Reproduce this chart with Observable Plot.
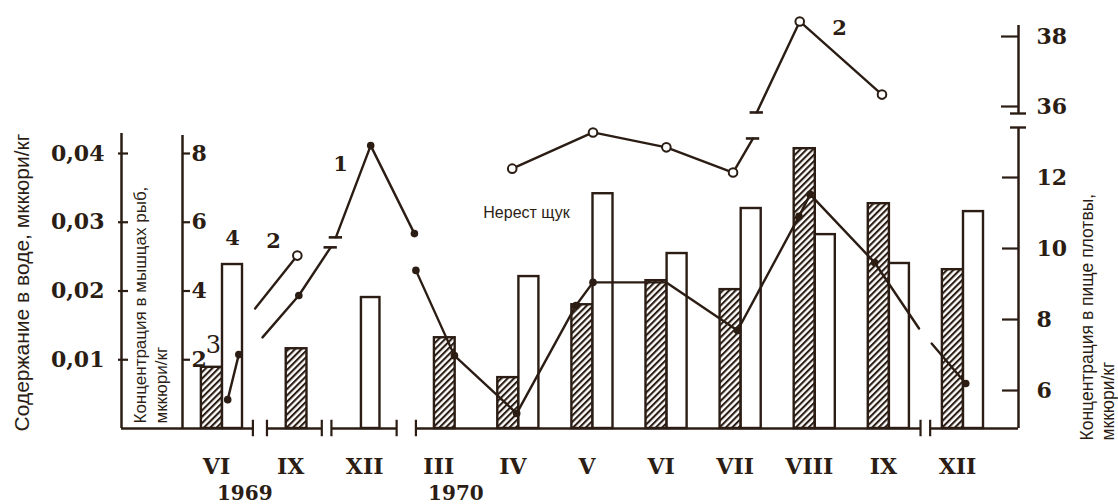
<!DOCTYPE html>
<html><head><meta charset="utf-8">
<script src="https://cdn.jsdelivr.net/npm/d3@7"></script>
<script src="https://cdn.jsdelivr.net/npm/@observablehq/plot@0.6"></script>
<style>html,body{margin:0;padding:0;background:#fff;} svg{display:block}</style>
</head><body><div id="chart"></div>
<script>
// ---- data ----
const months = ["VI","IX","XII","III","IV","V","VI","VII","VIII","IX","XII"];
const years = ["1969","1970"];
// series 3 (hatched bars): содержание в воде, мккюри/кг
const water = [0.0089, 0.0116, null, 0.0132, 0.0074, 0.0180, 0.0215, 0.0202, 0.0407, 0.0327, 0.0231];
// series 4 (open bars), inner left scale
const series4 = [4.77, null, 3.81, null, 4.42, 6.83, 5.09, 6.40, 5.64, 4.80, 6.31];
// line 1 (filled dots), inner left scale; position = fractional month slot
const line1Seg  = [0,0, 1,1,1, 2,2,2, 3,3,3,3,3,3,3,3,3,3,3, 4,4];
const line1Pos  = [0.07,0.22, 0.54,1.03,1.46, 1.53,2.00,2.59, 2.61,3.13,3.97,4.77,5.00,5.99,6.95,7.78,7.93,8.80,9.40, 9.57,10.03];
const line1Val  = [0.84,2.15, 2.65,3.87,5.27, 5.56,8.23,5.67, 4.60,2.12,0.44,3.58,4.25,4.25,2.85,6.17,6.81,4.83,2.91, 2.47,1.31];
const line1Mark = ["d","d", "-","d","c", "c","d","d", "d","d","d","d","d","-","d","d","d","d","-", "-","d"];
// line 2 (open circles), right scale
const line2Seg  = [0,0, 1,1,1,1,1, 2,2,2];
const line2Pos  = [0.44,1.01, 3.91,5.00,5.99,6.89,7.16, 7.21,7.79,8.90];
const line2Val  = [8.31,9.80, 12.25,13.27,12.85,12.14,13.10, 35.83,38.43,36.34];
const line2Mark = ["-","o", "o","o","o","o","c", "c","o","o"];
// axis ticks
const waterTicks = [0.01, 0.02, 0.03, 0.04];
const fishTicks = [2, 4, 6, 8];
const rightLowTicks = [6, 8, 10, 12];
const rightHighTicks = [36, 38];

// ---- layout helpers ----
const ink = "#2b1d14";
const serif = "DejaVu Serif";
const sans = "Liberation Sans, Arial, sans-serif";
const X0 = 222, XSTEP = 74.1;
const px = p => (p - X0) / XSTEP;      // page px -> x units (decorations only)
const py = p => (428 - p) / 34.375;    // page px -> y units (decorations only)
const water2y = w => w * 200;
const right2y = p => p >= 30 ? 9.367 + (p - 36) * 1.018 : 1.105 + (p - 6) * 1.0327;

const bars3 = months.map((m, i) => ({i, v: water[i], pair: series4[i] != null})).filter(d => d.v != null);
const bars4 = months.map((m, i) => ({i, v: series4[i], pair: water[i] != null})).filter(d => d.v != null);
const line1 = line1Pos.map((x, k) => ({x, y: line1Val[k], seg: line1Seg[k], m: line1Mark[k]}));
const line2 = line2Pos.map((x, k) => ({x, y: right2y(line2Val[k]), seg: line2Seg[k], m: line2Mark[k]}));
const caps = [...line1, ...line2].filter(d => d.m === "c");
const breaks = [0.41, 0.60, 1.34, 1.47, 2.35, 2.61, 9.42, 9.55];
const baseSegs = [[px(121), 0.41], [0.60, 1.34], [1.47, 2.35], [2.61, 9.42], [9.55, px(1018)]];

const num = {fontFamily: serif, fontWeight: "bold", fontSize: 22, fill: ink};

const svg = Plot.plot({
  width: 1118, height: 504, margin: 0,
  x: {type: "linear", domain: [0, 10], range: [X0, X0 + 10 * XSTEP], axis: null},
  y: {type: "linear", domain: [0, 8], range: [428, 153], axis: null},
  style: {background: "white", color: ink},
  marks: [
    // bars
    Plot.rect(bars3, {x1: d => d.pair ? d.i - 0.285 : d.i - 0.14, x2: d => d.pair ? d.i : d.i + 0.14,
      y1: 0, y2: d => water2y(d.v), fill: "url(#hatch)", stroke: ink, strokeWidth: 2.4}),
    Plot.rect(bars4, {x1: d => d.pair ? d.i : d.i - 0.125, x2: d => d.pair ? d.i + 0.27 : d.i + 0.125,
      y1: 0, y2: d => d.v, fill: "white", stroke: ink, strokeWidth: 2.4}),
    // axes lines
    Plot.ruleX([px(121)], {y1: 0, y2: py(133), stroke: ink, strokeWidth: 2.5}),
    Plot.ruleX([px(182)], {y1: 0, y2: py(135), stroke: ink, strokeWidth: 2.5}),
    Plot.ruleX([px(1018)], {y1: 0, y2: py(127), stroke: ink, strokeWidth: 2.5}),
    Plot.ruleX([px(1018)], {y1: py(113), y2: py(25), stroke: ink, strokeWidth: 2.5}),
    // baseline with breaks
    Plot.ruleY(baseSegs, {y: 0, x1: d => d[0], x2: d => d[1], stroke: ink, strokeWidth: 2.5}),
    Plot.ruleX(breaks, {y1: -0.24, y2: 0.24, stroke: ink, strokeWidth: 2.2}),
    // water axis
    Plot.ruleY(waterTicks, {y: water2y, x1: px(118), x2: px(128), stroke: ink, strokeWidth: 2.2}),
    Plot.text(waterTicks, {y: water2y, x: px(104), text: d => d.toFixed(2).replace(".", ","), textAnchor: "end", ...num}),
    // fish axis
    Plot.ruleY(fishTicks, {y: d => d, x1: px(182), x2: px(190), stroke: ink, strokeWidth: 2.2}),
    Plot.text(fishTicks, {y: d => d, x: px(191), text: d => String(d), textAnchor: "start", ...num}),
    // right axis
    Plot.ruleY(rightLowTicks, {y: right2y, x1: px(1002), x2: px(1018), stroke: ink, strokeWidth: 2.2}),
    Plot.ruleY(rightHighTicks, {y: right2y, x1: px(1001), x2: px(1018), stroke: ink, strokeWidth: 2.2}),
    Plot.ruleY([py(127), py(113)], {y: d => d, x1: px(1010), x2: px(1026), stroke: ink, strokeWidth: 2.4}),
    Plot.text([...rightLowTicks, ...rightHighTicks], {y: right2y, x: px(1036), text: d => String(d), textAnchor: "start", ...num}),
    // lines
    Plot.line(line1, {x: "x", y: "y", z: "seg", stroke: ink, strokeWidth: 2.4}),
    Plot.line(line2, {x: "x", y: "y", z: "seg", stroke: ink, strokeWidth: 2.4}),
    Plot.dot(line1.filter(d => d.m === "d"), {x: "x", y: "y", r: 3.8, fill: ink}),
    Plot.dot(line2.filter(d => d.m === "o"), {x: "x", y: "y", r: 4.3, fill: "white", stroke: ink, strokeWidth: 2}),
    Plot.ruleY(caps, {y: "y", x1: d => d.x - 0.09, x2: d => d.x + 0.09, stroke: ink, strokeWidth: 2.6}),
    // month & year labels
    Plot.text(months, {x: (d, i) => i, y: 0, dy: 38, dx: -6, text: d => d, ...num}),
    Plot.text(years, {x: (d, i) => [0.3, 3.15][i], y: 0, dy: 65, text: d => d, ...num, fontSize: 20}),
    // series annotations
    Plot.text(["1"], {x: px(340), y: py(164), text: d => d, ...num, fontSize: 21}),
    Plot.text(["2"], {x: px(273), y: py(241), text: d => d, ...num, fontSize: 21}),
    Plot.text(["2"], {x: px(839), y: py(28), text: d => d, ...num, fontSize: 21}),
    Plot.text(["3"], {x: px(213), y: py(345), text: d => d, ...num, fontWeight: "normal", fontSize: 24}),
    Plot.text(["4"], {x: px(232), y: py(238), text: d => d, ...num, fontSize: 21}),
    Plot.text(["Нерест щук"], {x: px(526), y: py(212), text: d => d, fontFamily: sans, fontSize: 16, fill: ink}),
    // axis titles
    Plot.text(["Содержание в воде, мккюри/кг"], {x: px(22), y: py(431), text: d => d, rotate: -90, textAnchor: "start",
      fontFamily: sans, fontSize: 21, fill: ink}),
    Plot.text(["Концентрация в мышцах рыб,\nмккюри/кг"], {x: px(149.5), y: py(423), text: d => d, rotate: -90, textAnchor: "start",
      lineAnchor: "middle", lineHeight: 1.24, fontFamily: sans, fontSize: 17, fill: ink}),
    Plot.text(["Концентрация в пище плотвы,\nмккюри/кг"], {x: px(1096), y: py(440), text: d => d, rotate: -90, textAnchor: "start",
      lineAnchor: "middle", lineHeight: 1.2, fontFamily: sans, fontSize: 17.5, fill: ink})
  ]
});

// hatch pattern definition
const NS = "http://www.w3.org/2000/svg";
const defs = document.createElementNS(NS, "defs");
const pat = document.createElementNS(NS, "pattern");
pat.setAttribute("id", "hatch");
pat.setAttribute("patternUnits", "userSpaceOnUse");
pat.setAttribute("width", "4.5");
pat.setAttribute("height", "4.5");
pat.setAttribute("patternTransform", "rotate(45)");
const bg = document.createElementNS(NS, "rect");
bg.setAttribute("width", "4.5"); bg.setAttribute("height", "4.5"); bg.setAttribute("fill", "white");
const ln = document.createElementNS(NS, "line");
ln.setAttribute("x1", "1"); ln.setAttribute("y1", "0"); ln.setAttribute("x2", "1"); ln.setAttribute("y2", "4.5");
ln.setAttribute("stroke", ink); ln.setAttribute("stroke-width", "2.2");
pat.appendChild(bg); pat.appendChild(ln); defs.appendChild(pat);
svg.insertBefore(defs, svg.firstChild);
document.getElementById("chart").appendChild(svg);
</script></body></html>
